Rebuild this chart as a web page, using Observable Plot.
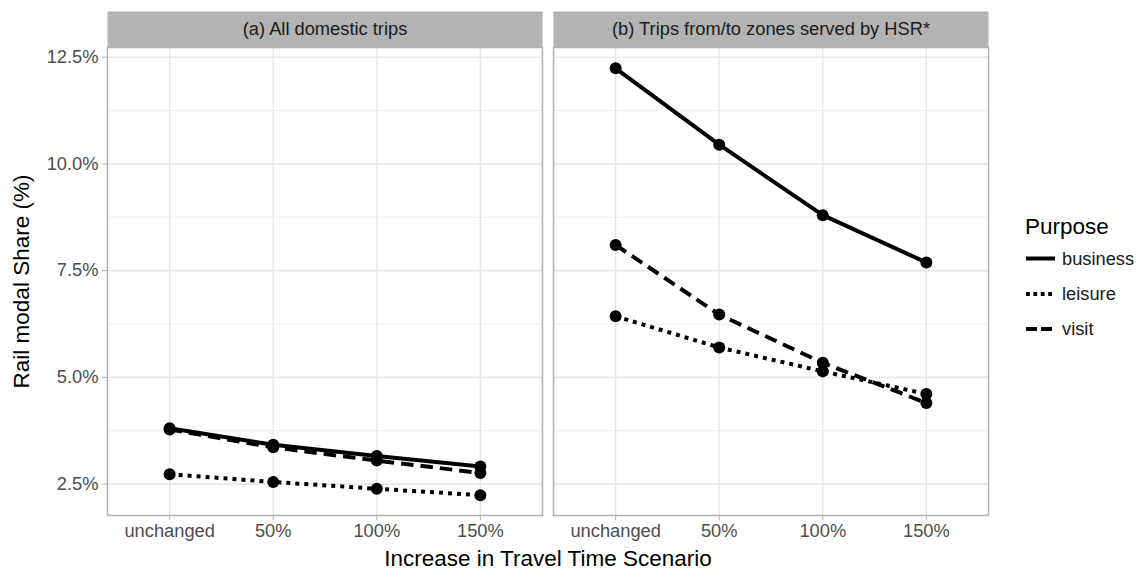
<!DOCTYPE html>
<html>
<head>
<meta charset="utf-8">
<script src="https://cdn.jsdelivr.net/npm/d3@7"></script>
<script src="https://cdn.jsdelivr.net/npm/@observablehq/plot@0.6"></script>
<style>
  html, body { margin: 0; padding: 0; background: #fff; }
  #wrap { position: relative; width: 1138px; height: 571px; font-family: "Liberation Sans", Arial, sans-serif; }
  #legend { position: absolute; left: 0; top: 0; }
</style>
</head>
<body>
<div id="wrap"></div>
<script>
// ---- data ----
const panels = ["(a) All domestic trips", "(b) Trips from/to zones served by HSR*"];
const scenarios = ["unchanged", "50%", "100%", "150%"];
const purposes = ["business", "leisure", "visit"];
const yTicks = [2.5, 5.0, 7.5, 10.0, 12.5];
const yMinorTicks = [3.75, 6.25, 8.75, 11.25];

const allBusiness = [3.81, 3.42, 3.16, 2.91];
const allLeisure  = [2.73, 2.55, 2.39, 2.24];
const allVisit    = [3.78, 3.36, 3.05, 2.76];
const hsrBusiness = [12.24, 10.45, 8.80, 7.69];
const hsrLeisure  = [6.43, 5.70, 5.14, 4.61];
const hsrVisit    = [8.10, 6.47, 5.34, 4.40];

const seriesValues = [
  [allBusiness, allLeisure, allVisit],
  [hsrBusiness, hsrLeisure, hsrVisit]
];

const rows = [];
panels.forEach((panel, pi) => {
  purposes.forEach((purpose, ki) => {
    scenarios.forEach((s, si) => {
      rows.push({panel, purpose, scenario: s, share: seriesValues[pi][ki][si]});
    });
  });
});

const dashes = {business: null, leisure: "4,5", visit: "12.5,7"};
const font = "'Liberation Sans', Arial, sans-serif";
const tickFont = 18.3;
const titleFont = 22.5;

const lineMarks = purposes.map(p => Plot.line(rows.filter(d => d.purpose === p), {
  fx: "panel", x: "scenario", y: "share", z: "panel",
  stroke: "black", strokeWidth: 4, strokeDasharray: dashes[p] || undefined,
  strokeLinecap: "butt", strokeLinejoin: "round"
}));

const chart = Plot.plot({
  width: 1138,
  height: 571,
  marginLeft: 107,
  marginRight: 150,
  marginTop: 47,
  marginBottom: 56,
  style: {fontFamily: font, background: "white", color: "black", overflow: "visible"},
  fx: {domain: panels, paddingInner: 0.02466, paddingOuter: 0, round: false},
  x: {type: "point", domain: scenarios, padding: 0.6, round: false},
  y: {domain: [1.764, 12.727]},
  marks: [
    // strip backgrounds
    Plot.frame({fill: "#B3B3B3", stroke: "none", insetTop: -36, insetBottom: 468}),
    // grid
    Plot.gridY({ticks: yMinorTicks, stroke: "#EEEEEE", strokeOpacity: 1, strokeWidth: 1}),
    Plot.gridY({ticks: yTicks, stroke: "#E8E8E8", strokeOpacity: 1, strokeWidth: 1.6}),
    Plot.gridX({stroke: "#E5E5E5", strokeOpacity: 1, strokeWidth: 1.3}),
    // panel border
    Plot.frame({stroke: "#B3B3B3", strokeWidth: 1.5}),
    // axes
    Plot.axisY({ticks: yTicks, tickFormat: d => d.toFixed(1) + "%", tickSize: 5, tickPadding: 4,
      fontSize: tickFont, color: "#4D4D4D", stroke: "#B3B3B3", label: null}),
    Plot.axisY({ticks: [5], tickFormat: () => "", tickSize: 0, fontSize: titleFont, color: "black",
      label: "Rail modal Share (%)", labelAnchor: "center", labelOffset: 94, labelArrow: "none"}),
    Plot.axisX({tickSize: 5, tickPadding: 3, fontSize: tickFont, color: "#4D4D4D", stroke: "#B3B3B3", label: null}),
    Plot.axisFx({anchor: "bottom", tickFormat: () => "", tickSize: 0, fontSize: titleFont, color: "black",
      label: "Increase in Travel Time Scenario", labelAnchor: "center", labelOffset: 50, labelArrow: "none"}),
    // strip labels
    Plot.text(panels, {fx: d => d, text: d => d, frameAnchor: "top", dy: -18,
      fontSize: tickFont, fill: "#1A1A1A", lineAnchor: "middle"}),
    // data
    ...lineMarks,
    Plot.dot(rows, {fx: "panel", x: "scenario", y: "share", r: 6, fill: "black", stroke: "none"})
  ]
});

const wrap = document.getElementById("wrap");
wrap.appendChild(chart);

// ---- legend ----
const legend = d3.select(wrap).append("svg")
  .attr("id", "legend")
  .attr("width", 1138).attr("height", 571)
  .style("pointer-events", "none")
  .style("font-family", font);
legend.append("text").attr("x", 1025).attr("y", 226).attr("dy", "0.35em")
  .attr("font-size", titleFont).attr("fill", "black").text("Purpose");
const legendY = [258.5, 294, 329];
purposes.forEach((p, i) => {
  legend.append("line").attr("x1", 1026).attr("x2", 1055)
    .attr("y1", legendY[i]).attr("y2", legendY[i])
    .attr("stroke", "black").attr("stroke-width", 4)
    .attr("stroke-dasharray", dashes[p] ? (p === "visit" ? "11,4" : "3.8,3.6") : null);
  legend.append("text").attr("x", 1062).attr("y", legendY[i]).attr("dy", "0.35em")
    .attr("font-size", tickFont).attr("fill", "#1A1A1A").text(p);
});
</script>
</body>
</html>
